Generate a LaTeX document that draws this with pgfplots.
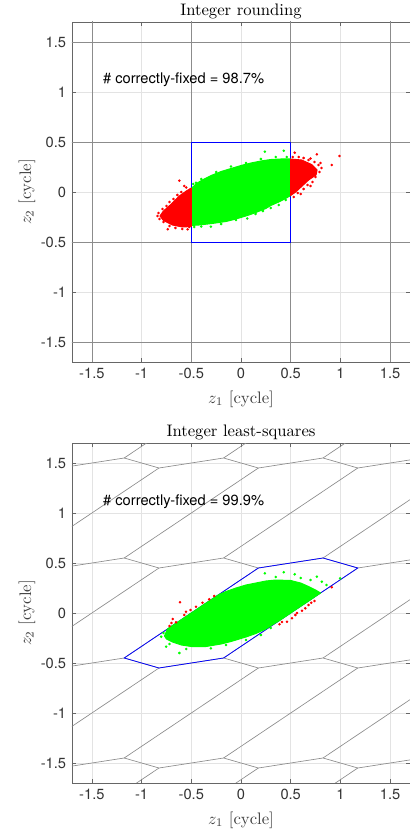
\documentclass[border=0pt]{standalone}
\usepackage{fontspec}
\usepackage{pgfplots}
\pgfplotsset{compat=1.18}
\newfontfamily\hv{TeX Gyre Heros}

\definecolor{mgreen}{RGB}{0,255,0}
\definecolor{mred}{RGB}{255,0,0}
\definecolor{mblue}{RGB}{0,0,255}
\definecolor{cellgray}{gray}{0.55}
\definecolor{gridgray}{gray}{0.89}

\pgfplotsset{
  zplot/.style={
    scale only axis, width=202.8pt, height=204pt,
    xmin=-1.7, xmax=1.7, ymin=-1.7, ymax=1.7,
    xtick={-1.5,-1,-0.5,0,0.5,1,1.5},
    ytick={-1.5,-1,-0.5,0,0.5,1,1.5},
    grid=major, major grid style={gridgray, line width=0.4pt},
    tick align=inside, major tick length=2.2pt,
    axis line style={black!60, line width=0.45pt},
    tick style={black!60, line width=0.4pt},
    /pgf/number format/assume math mode=true,
    tick label style={font=\hv\fontsize{8.8}{10}\selectfont, text=black!80},
    xlabel={$z_1$ [cycle]}, ylabel={$z_2$ [cycle]},
    label style={font=\fontsize{10}{12}\selectfont, text=black!75},
    xlabel style={at={(axis description cs:0.5,-0.121)}, anchor=base},
    ylabel style={at={(axis description cs:-0.133,0.5)}, anchor=center},
    title style={at={(axis description cs:0.5,1.02)}, anchor=base, yshift=-6pt,
      font=\fontsize{10}{12}\selectfont},
    unbounded coords=jump,
  },
  pts/.style={only marks, mark=*, mark size=0.55pt, color=#1,
    mark options={draw=none, fill=#1}},
  cell/.style={cellgray, line width=0.4pt},
}

\begin{document}
\begin{tikzpicture}
\path[use as bounding box] (-43.2pt,-31.2pt) rectangle (202.8pt,469.8pt);

% ---- integer rounding ----
\begin{axis}[zplot, at={(0pt,252.6pt)}, anchor=south west,
  title={Integer rounding}]
\addplot[cell] coordinates {
(-1.5,-2)(-1.5,2) (0,nan) (-0.5,-2)(-0.5,2) (0,nan) (0.5,-2)(0.5,2) (0,nan) (1.5,-2)(1.5,2) (0,nan)
(-2,-1.5)(2,-1.5) (0,nan) (-2,-0.5)(2,-0.5) (0,nan) (-2,0.5)(2,0.5) (0,nan) (-2,1.5)(2,1.5)
};
\addplot[mblue, line width=0.45pt] coordinates {
(-0.5,-0.5)(0.5,-0.5)(0.5,0.5)(-0.5,0.5)(-0.5,-0.5)
};
% dense part of the cloud inside the box
\addplot[draw=mgreen, fill=mgreen, line width=0.6pt, line join=round] coordinates {
(-0.50,0.035) (-0.44,0.09) (-0.38,0.125) (-0.30,0.165) (-0.20,0.205) (-0.10,0.235)
(0.0,0.265) (0.10,0.29) (0.20,0.31) (0.30,0.325) (0.40,0.33) (0.50,0.33)
(0.50,-0.035) (0.44,-0.07) (0.38,-0.10) (0.30,-0.135) (0.25,-0.165) (0.15,-0.205)
(0.08,-0.23) (0.0,-0.255) (-0.09,-0.28) (-0.15,-0.295) (-0.29,-0.315) (-0.42,-0.33)
(-0.50,-0.335) (-0.50,0.035)
};
% dense parts outside the box
\addplot[draw=mred, fill=mred, line width=0.6pt, line join=round] coordinates {
(-0.50,0.04) (-0.55,0.01) (-0.62,-0.04) (-0.70,-0.12) (-0.78,-0.19) (-0.815,-0.24)
(-0.78,-0.285) (-0.69,-0.33) (-0.59,-0.35) (-0.50,-0.345) (-0.50,0.04)
};
\addplot[draw=mred, fill=mred, line width=0.6pt, line join=round] coordinates {
(0.50,0.33) (0.61,0.32) (0.71,0.275) (0.765,0.22) (0.755,0.17) (0.68,0.12)
(0.61,0.055) (0.55,0.0) (0.50,-0.035) (0.50,0.33)
};
\addplot[pts=mgreen] coordinates {
(0.24,0.403) (0.43,0.413) (0.35,0.35) (0.20,0.33) (0.05,0.29) (-0.10,0.255)
(-0.25,0.20) (-0.40,0.13) (-0.453,0.093) (-0.48,0.08) (0.46,0.35) (-0.303,-0.347)
(-0.20,-0.32) (-0.40,-0.345) (-0.47,-0.35) (0.063,-0.265) (0.147,-0.22) (0.22,-0.19)
(0.38,-0.13) (0.45,-0.08) (0.30,-0.16) (-0.05,-0.28)
};
\addplot[pts=mred] coordinates {
(-0.62,0.113) (-0.57,0.06) (-0.55,0.045) (-0.60,0.00) (-0.64,-0.03) (-0.68,-0.07)
(-0.72,-0.10) (-0.75,-0.14) (-0.79,-0.17) (-0.83,-0.21) (-0.84,-0.24) (-0.82,-0.27)
(-0.78,-0.30) (-0.737,-0.373) (-0.72,-0.34) (-0.66,-0.36) (-0.59,-0.37) (-0.537,-0.373)
(-0.52,-0.35)
(0.52,0.35) (0.54,0.393) (0.58,0.35) (0.63,0.34) (0.68,0.32) (0.70,0.335) (0.74,0.30)
(0.763,0.377) (0.78,0.27) (0.80,0.29) (0.81,0.24) (0.79,0.20) (0.913,0.27) (0.99,0.36)
(0.75,0.15) (0.72,0.10) (0.67,0.07) (0.63,0.03) (0.57,-0.01) (0.53,-0.05) (0.60,-0.02)
(0.70,0.06)
};
\node[anchor=west, inner sep=0pt, font=\hv\fontsize{8.8}{10}\selectfont]
  at (axis cs:-1.39,1.12) {\# correctly-fixed = 98.7\%};
\end{axis}

% ---- integer least-squares ----
\begin{axis}[zplot, at={(0pt,0pt)}, anchor=south west,
  title={Integer least-squares}]
% zig-zag rows of the hexagonal cells
\addplot[cell] coordinates {
(-2.825,-1.55)(-2.175,-1.45)(-1.825,-1.55)(-1.175,-1.45)(-0.825,-1.55)(-0.175,-1.45)
(0.175,-1.55)(0.825,-1.45)(1.175,-1.55)(1.825,-1.45)(2.175,-1.55) (0,nan)
(-2.825,-0.55)(-2.175,-0.45)(-1.825,-0.55)(-1.175,-0.45)(-0.825,-0.55)(-0.175,-0.45)
(0.175,-0.55)(0.825,-0.45)(1.175,-0.55)(1.825,-0.45)(2.175,-0.55) (0,nan)
(-2.825,0.45)(-2.175,0.55)(-1.825,0.45)(-1.175,0.55)(-0.825,0.45)(-0.175,0.55)
(0.175,0.45)(0.825,0.55)(1.175,0.45)(1.825,0.55)(2.175,0.45) (0,nan)
(-2.825,1.45)(-2.175,1.55)(-1.825,1.45)(-1.175,1.55)(-0.825,1.45)(-0.175,1.55)
(0.175,1.45)(0.825,1.55)(1.175,1.45)(1.825,1.55)(2.175,1.45)
};
% long edges of the cells
\addplot[cell] coordinates {
(-2.175,-2.45)(-0.825,-1.55) (0,nan) (-1.175,-2.45)(0.175,-1.55) (0,nan) (-0.175,-2.45)(1.175,-1.55) (0,nan)
(-2.175,-1.45)(-0.825,-0.55) (0,nan) (-1.175,-1.45)(0.175,-0.55) (0,nan) (-0.175,-1.45)(1.175,-0.55) (0,nan) (0.825,-1.45)(2.175,-0.55) (0,nan)
(-2.175,-0.45)(-0.825,0.45) (0,nan) (-1.175,-0.45)(0.175,0.45) (0,nan) (-0.175,-0.45)(1.175,0.45) (0,nan) (0.825,-0.45)(2.175,0.45) (0,nan)
(-2.175,0.55)(-0.825,1.45) (0,nan) (-1.175,0.55)(0.175,1.45) (0,nan) (-0.175,0.55)(1.175,1.45) (0,nan) (0.825,0.55)(2.175,1.45) (0,nan)
(-1.175,1.55)(0.175,2.45) (0,nan) (-0.175,1.55)(1.175,2.45) (0,nan) (0.825,1.55)(2.175,2.45)
};
\addplot[mblue, line width=0.45pt] coordinates {
(0.175,0.45)(0.825,0.55)(1.175,0.45)(-0.175,-0.45)(-0.825,-0.55)(-1.175,-0.45)(0.175,0.45)
};
\addplot[draw=mgreen, fill=mgreen, line width=0.6pt, line join=round] coordinates {
(-0.77,-0.23) (-0.74,-0.16) (-0.67,-0.113) (-0.60,-0.067) (-0.52,-0.013) (-0.45,0.033)
(-0.38,0.08) (-0.30,0.133) (-0.22,0.185) (-0.15,0.215) (-0.05,0.25) (0.05,0.28)
(0.15,0.30) (0.25,0.32) (0.35,0.33) (0.50,0.325) (0.60,0.30) (0.68,0.265) (0.75,0.23)
(0.80,0.20) (0.70,0.133) (0.60,0.067) (0.50,0.0) (0.40,-0.067) (0.32,-0.115)
(0.25,-0.16) (0.15,-0.205) (0.05,-0.24) (0.0,-0.255) (-0.10,-0.285) (-0.20,-0.31)
(-0.35,-0.335) (-0.50,-0.335) (-0.60,-0.32) (-0.69,-0.29) (-0.75,-0.26) (-0.77,-0.23)
};
\addplot[pts=mgreen] coordinates {
(0.24,0.397) (0.43,0.407) (0.54,0.387) (0.763,0.363) (0.997,0.347) (0.813,0.313)
(0.86,0.28) (0.70,0.33) (0.60,0.35) (0.35,0.36) (-0.803,-0.237) (-0.78,-0.20)
(-0.753,-0.337) (-0.72,-0.31) (-0.62,-0.40) (-0.55,-0.36) (-0.303,-0.353) (-0.15,-0.32)
(0.05,-0.27) (0.20,-0.22) (0.30,-0.15)
};
\addplot[pts=mred] coordinates {
(-0.613,0.107) (-0.687,-0.06) (-0.653,-0.093) (-0.57,-0.02) (-0.553,0.013) (-0.507,0.03)
(-0.453,0.063) (-0.387,0.103) (-0.32,0.137) (-0.27,0.17) (-0.70,-0.10) (-0.72,-0.13)
(0.387,-0.113) (0.413,-0.09) (0.463,-0.087) (0.513,-0.053) (0.547,-0.02) (0.563,0.0)
(0.613,0.023) (0.647,0.047) (0.68,0.08) (0.707,0.103) (0.913,0.257) (0.74,0.12)
};
\node[anchor=west, inner sep=0pt, font=\hv\fontsize{8.8}{10}\selectfont]
  at (axis cs:-1.39,1.113) {\# correctly-fixed = 99.9\%};
\end{axis}
\end{tikzpicture}
\end{document}
